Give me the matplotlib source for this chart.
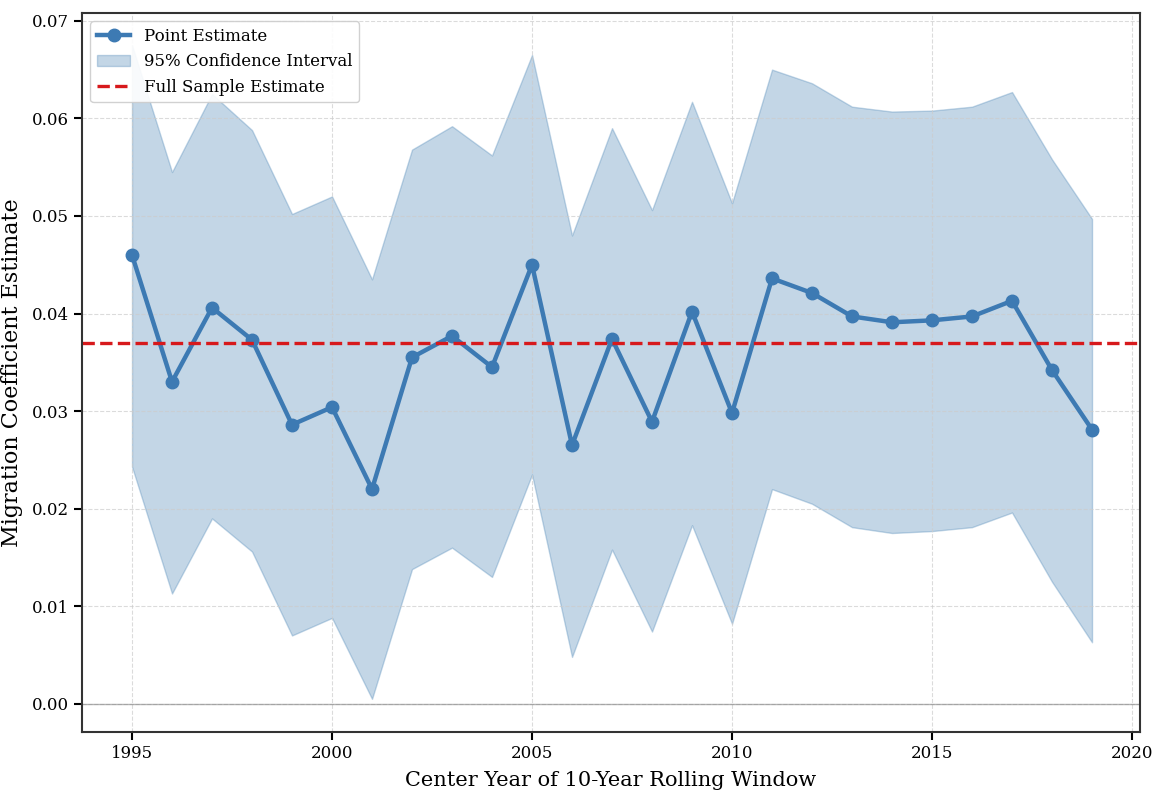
import numpy as np
import matplotlib.pyplot as plt

# rolling window centre years and estimates
years = np.arange(1995, 2020)
estimate = [0.0460, 0.0330, 0.0406, 0.0373, 0.0286, 0.0304, 0.0220, 0.0355,
            0.0377, 0.0345, 0.0450, 0.0265, 0.0374, 0.0289, 0.0402, 0.0298,
            0.0436, 0.0421, 0.0397, 0.0391, 0.0393, 0.0397, 0.0413, 0.0342,
            0.0281]
ci_upper = [0.0675, 0.0545, 0.0625, 0.0588, 0.0502, 0.0520, 0.0435, 0.0568,
            0.0592, 0.0562, 0.0665, 0.0480, 0.0590, 0.0506, 0.0617, 0.0513,
            0.0650, 0.0636, 0.0612, 0.0607, 0.0608, 0.0612, 0.0627, 0.0558,
            0.0497]
ci_lower = [0.0243, 0.0113, 0.0190, 0.0156, 0.0070, 0.0088, 0.0005, 0.0138,
            0.0160, 0.0130, 0.0235, 0.0048, 0.0158, 0.0074, 0.0183, 0.0082,
            0.0220, 0.0205, 0.0181, 0.0175, 0.0177, 0.0181, 0.0196, 0.0125,
            0.0063]
full_sample = 0.0370

plt.rcParams['font.family'] = 'serif'
plt.rcParams['font.serif'] = ['DejaVu Serif']

fig = plt.figure(figsize=(11.52, 7.95), dpi=100)
ax = fig.add_axes([0.0712, 0.0792, 0.9184, 0.9044])

ax.fill_between(years, ci_lower, ci_upper, color='#4682b4', alpha=0.32,
                linewidth=1, edgecolor='#4682b4', label='95% Confidence Interval')
ax.plot(years, estimate, '-o', color='#3d7ab3', linewidth=3.2, markersize=9,
        label='Point Estimate')
ax.axhline(full_sample, color='#d7191c', linestyle='--', linewidth=2.4,
           label='Full Sample Estimate')
ax.axhline(0, color='gray', linewidth=1, alpha=0.6)

ax.set_xlim(1993.75, 2020.2)
ax.set_ylim(-0.0029, 0.0708)
ax.set_xticks([1995, 2000, 2005, 2010, 2015, 2020])
ax.set_yticks(np.arange(0, 0.071, 0.01))
ax.yaxis.set_major_formatter(plt.FormatStrFormatter('%.2f'))
ax.grid(True, linestyle='--', color='#cccccc', alpha=0.7)
ax.tick_params(labelsize=12, width=1.5, length=6)
for s in ax.spines.values():
    s.set_linewidth(1.5)
    s.set_color('#333333')

ax.set_xlabel('Center Year of 10-Year Rolling Window', fontsize=15, labelpad=6)
ax.set_ylabel('Migration Coefficient Estimate', fontsize=16)
ax.yaxis.set_label_coords(-0.056, 0.5)

h, l = ax.get_legend_handles_labels()
order = [1, 0, 2]
ax.legend([h[i] for i in order], [l[i] for i in order], loc='upper left',
          fontsize=12, framealpha=0.9)

fig.savefig('out.png', dpi=100)
